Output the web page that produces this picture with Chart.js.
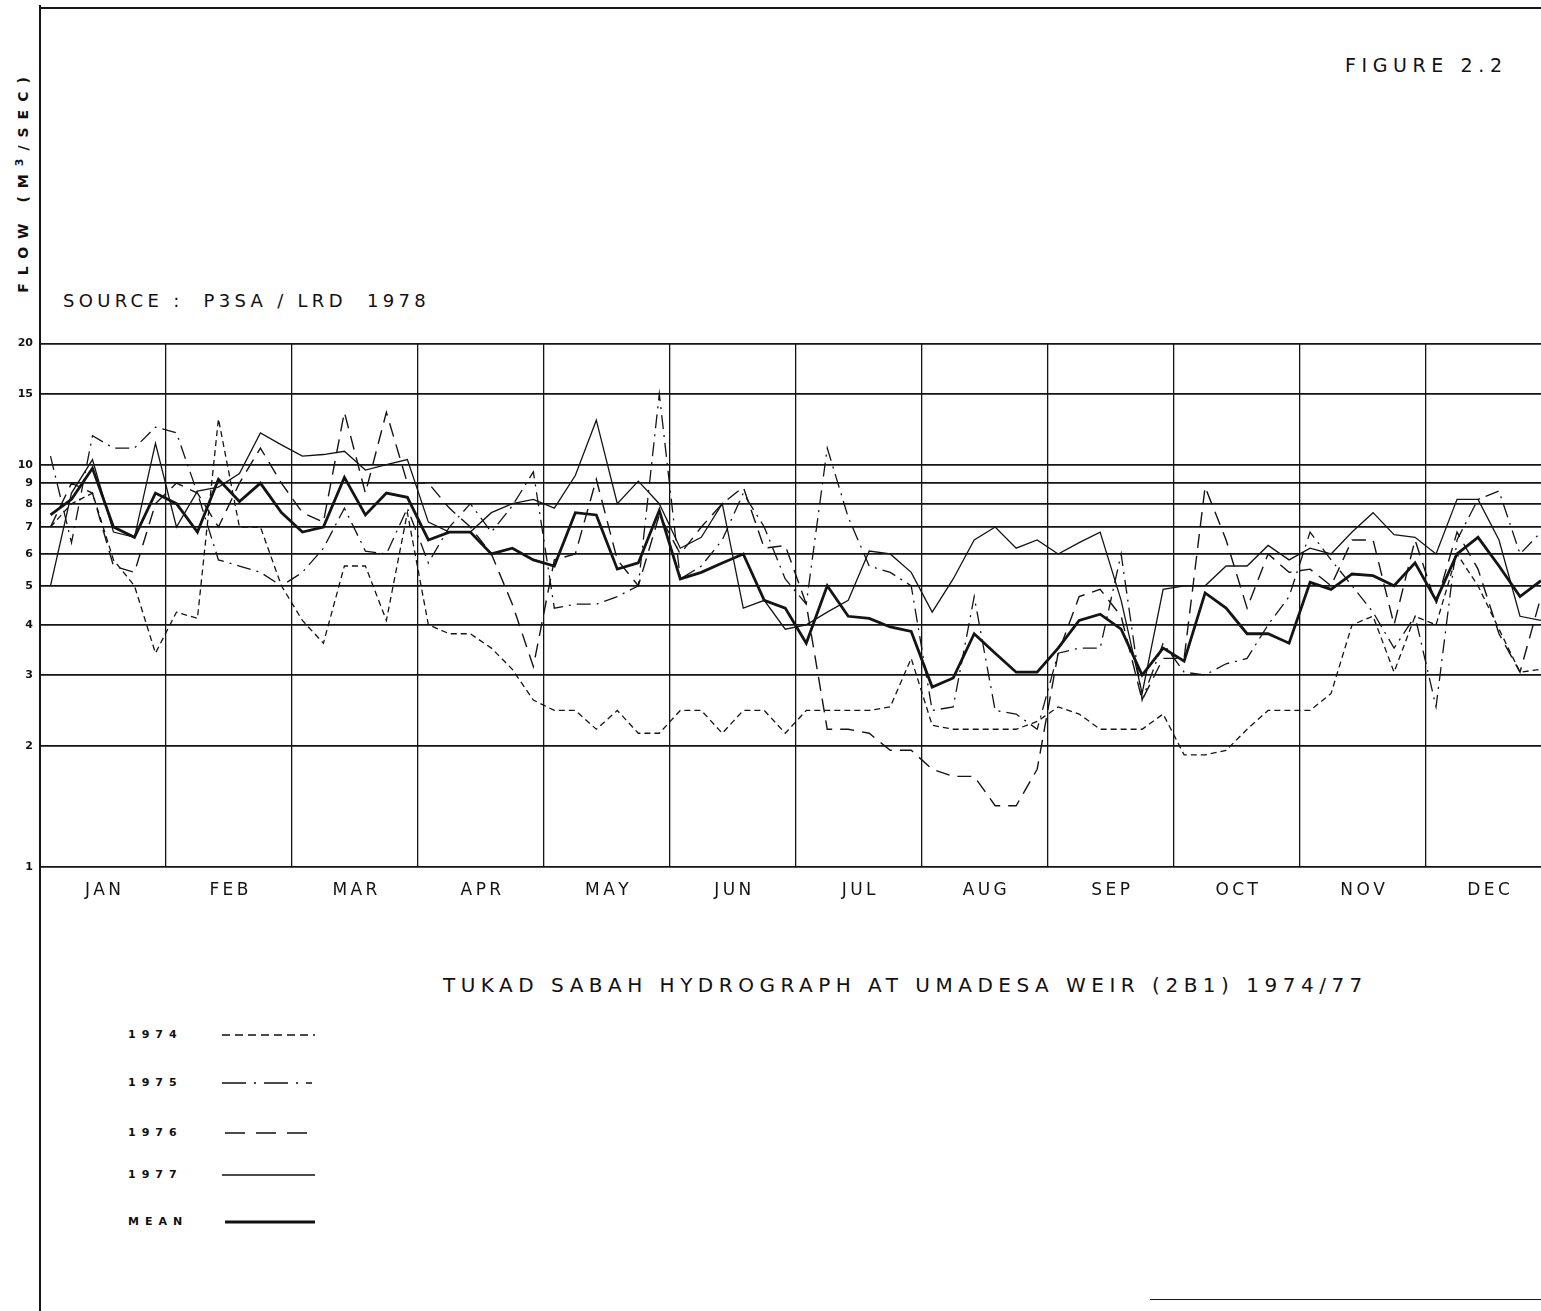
<!DOCTYPE html>
<html>
<head>
<meta charset="utf-8">
<script src="https://cdn.jsdelivr.net/npm/chart.js@4.4.1/dist/chart.umd.min.js"></script>
<style>
  html, body { margin: 0; padding: 0; background: #fff; }
  body { width: 1541px; height: 1311px; position: relative; overflow: hidden; font-family: "DejaVu Sans", "Liberation Sans", sans-serif; color: #111; }
  .rule { position: absolute; background: #161616; }
  .txt { position: absolute; white-space: nowrap; }
  #wrap { position: absolute; left: 0; top: 330px; width: 1541px; height: 580px; }
  .leg { position: absolute; left: 128px; font-size: 11px; font-weight: bold; letter-spacing: 6px; }
  .legline { position: absolute; }
</style>
</head>
<body>
<!-- sheet frame -->
<div class="rule" style="left:39px; top:5px; width:2px; height:1306px;"></div>
<div class="rule" style="left:40px; top:7px; width:1501px; height:2px;"></div>
<div class="rule" style="left:1150px; top:1299px; width:391px; height:1px;"></div>

<div class="txt" style="left:1345px; top:54px; font-size:19px; letter-spacing:5.6px;">FIGURE 2.2</div>
<div class="txt" style="left:63px; top:290px; font-size:18px; letter-spacing:4.3px;">SOURCE :&nbsp; P3SA / LRD&nbsp; 1978</div>
<div class="txt" style="left:22px; top:181px; font-size:14px; font-weight:bold; letter-spacing:8px; transform: translate(-50%,-50%) rotate(-90deg);">FLOW (M<sup style="font-size:11px;">3</sup>/SEC)</div>
<div class="txt" style="left:443px; top:973px; font-size:20px; letter-spacing:5.5px;">TUKAD SABAH HYDROGRAPH AT UMADESA WEIR (2B1) 1974/77</div>

<div id="wrap"><canvas id="c" width="1541" height="580"></canvas></div>

<div class="leg" style="top:1028px;">1974</div>
<div class="leg" style="top:1076px;">1975</div>
<div class="leg" style="top:1126px;">1976</div>
<div class="leg" style="top:1168px;">1977</div>
<div class="leg" style="top:1215px;">MEAN</div>
<svg class="legline" style="left:0; top:0;" width="400" height="1311">
  <line x1="222" y1="1035" x2="315" y2="1035" stroke="#111" stroke-width="1.4" stroke-dasharray="8 5"/>
  <line x1="222" y1="1083" x2="312" y2="1083" stroke="#111" stroke-width="1.4" stroke-dasharray="24 8 2 8"/>
  <line x1="225" y1="1133" x2="307" y2="1133" stroke="#111" stroke-width="1.6" stroke-dasharray="20 11"/>
  <line x1="222" y1="1175" x2="315" y2="1175" stroke="#111" stroke-width="1.6"/>
  <line x1="225" y1="1222" x2="315" y2="1222" stroke="#111" stroke-width="2.8"/>
</svg>

<script>
// Months of the year and the flow grid (m3/s, log scale)
const months = ['JAN', 'FEB', 'MAR', 'APR', 'MAY', 'JUN', 'JUL', 'AUG', 'SEP', 'OCT', 'NOV', 'DEC'];
const yTicks = [1, 2, 3, 4, 5, 6, 7, 8, 9, 10, 15, 20];

// Five-day (pentad) mean flows, 6 pentads per month
const flow1974 = [
  7.0, 8.0, 8.5, 5.8, 5.0, 3.4,
  4.3, 4.15, 13.0, 7.0, 7.0, 5.0,
  4.1, 3.6, 5.6, 5.6, 4.1, 7.6,
  4.0, 3.8, 3.8, 3.5, 3.1, 2.6,
  2.45, 2.45, 2.2, 2.45, 2.15, 2.15,
  2.45, 2.45, 2.15, 2.45, 2.45, 2.15,
  2.45, 2.45, 2.45, 2.45, 2.5, 3.3,
  2.25, 2.2, 2.2, 2.2, 2.2, 2.3,
  2.5, 2.4, 2.2, 2.2, 2.2, 2.4,
  1.9, 1.9, 1.95, 2.2, 2.45, 2.45,
  2.45, 2.7, 4.0, 4.2, 3.05, 4.2,
  4.0, 6.0, 5.0, 3.9, 3.05, 3.1
];
const flow1975 = [
  10.5, 6.4, 11.8, 11.0, 11.0, 12.4,
  12.0, 8.5, 5.8, 5.6, 5.4, 5.0,
  5.4, 6.2, 7.8, 6.1, 6.0, 7.8,
  5.7, 7.0, 8.0, 6.8, 7.9, 9.6,
  4.4, 4.5, 4.5, 4.7, 5.0, 15.0,
  5.2, 5.6, 6.5, 8.5, 7.0, 5.2,
  4.5, 11.0, 7.4, 5.6, 5.4, 5.0,
  2.45, 2.5, 4.7, 2.45, 2.4, 2.2,
  3.4, 3.5, 3.5, 6.0, 2.6, 3.6,
  3.05, 3.0, 3.2, 3.3, 4.0, 4.7,
  6.8, 5.8, 5.0, 4.3, 3.5, 4.2,
  2.5, 6.5, 8.2, 8.6, 6.0, 6.8
];
const flow1976 = [
  7.0, 9.0, 8.5, 5.6, 5.4, 8.0,
  9.0, 8.5, 7.0, 9.0, 11.0, 9.0,
  7.6, 7.2, 13.5, 8.5, 13.5, 9.0,
  9.0, 7.8, 7.0, 6.0, 4.5, 3.15,
  5.8, 6.0, 9.2, 5.8, 5.0, 7.5,
  6.0, 7.0, 8.0, 8.8, 6.2, 6.3,
  4.5, 2.2, 2.2, 2.15, 1.95, 1.95,
  1.75, 1.68, 1.68, 1.42, 1.42, 1.75,
  3.4, 4.7, 4.9, 4.2, 2.6, 3.3,
  3.3, 8.8, 6.5, 4.4, 6.0, 5.4,
  5.5, 5.0, 6.5, 6.5, 4.0, 6.5,
  4.5, 6.8, 5.5, 3.8, 3.05, 4.7
];
const flow1977 = [
  5.0, 8.5, 10.3, 6.8, 6.6, 11.3,
  7.0, 8.6, 8.8, 9.5, 12.0, 11.2,
  10.5, 10.6, 10.8, 9.7, 10.0, 10.3,
  7.2, 6.8, 6.8, 7.6, 8.0, 8.2,
  7.8, 9.4, 12.9, 8.0, 9.1, 8.0,
  6.2, 6.6, 8.0, 4.4, 4.6, 3.9,
  4.0, 4.3, 4.6, 6.1, 6.0, 5.4,
  4.3, 5.2, 6.5, 7.0, 6.2, 6.5,
  6.0, 6.4, 6.8, 4.6, 2.7, 4.9,
  5.0, 5.0, 5.6, 5.6, 6.3, 5.8,
  6.2, 6.0, 6.8, 7.6, 6.7, 6.6,
  6.0, 8.2, 8.2, 6.5, 4.2, 4.1
];
const flowMean = [
  7.5, 8.2, 9.8, 7.0, 6.6, 8.5,
  8.0, 6.8, 9.2, 8.1, 9.0, 7.6,
  6.8, 7.0, 9.3, 7.5, 8.5, 8.3,
  6.5, 6.8, 6.8, 6.0, 6.2, 5.8,
  5.6, 7.6, 7.5, 5.5, 5.7, 7.7,
  5.2, 5.4, 5.7, 6.0, 4.6, 4.4,
  3.6, 5.0, 4.2, 4.15, 3.95, 3.85,
  2.8, 2.95, 3.8, 3.4, 3.05, 3.05,
  3.5, 4.1, 4.25, 3.9, 3.0, 3.5,
  3.25, 4.8, 4.4, 3.8, 3.8, 3.6,
  5.1, 4.9, 5.35, 5.3, 5.0, 5.7,
  4.6, 6.0, 6.6, 5.6, 4.7, 5.15
];

// each pentad is plotted at its centre (pentad index + 0.5)
const toPoints = vals => vals.map((v, i) => ({ x: i + 0.5, y: v }));
const INK = '#141414';

function series(label, vals, width, dash) {
  return {
    label, data: toPoints(vals),
    borderColor: INK, borderWidth: width, borderDash: dash,
    pointRadius: 0, tension: 0, fill: false
  };
}

// spaced lettering for the month names
const spaced = s => s.split('').join('\u2009');

new Chart(document.getElementById('c'), {
  type: 'line',
  data: {
    datasets: [
      series('1974', flow1974, 1.3, [6, 4]),
      series('1975', flow1975, 1.3, [14, 6, 2, 6]),
      series('1976', flow1976, 1.4, [14, 8]),
      series('1977', flow1977, 1.3, []),
      series('MEAN', flowMean, 2.8, [])
    ]
  },
  options: {
    responsive: false,
    devicePixelRatio: 1,
    animation: false,
    layout: { padding: { top: 12, right: 0, left: 0, bottom: 0 } },
    plugins: { legend: { display: false }, tooltip: { enabled: false } },
    scales: {
      x: {
        type: 'linear', min: 0, max: 71.5,
        afterBuildTicks: s => { s.ticks = []; for (let v = 0; v <= 69; v += 3) s.ticks.push({ value: v }); },
        afterFit: s => { s.height = 43; },
        grid: {
          drawTicks: false,
          color: c => (c.tick && c.tick.value % 6 === 0) ? INK : 'rgba(0,0,0,0)',
          lineWidth: 1.3
        },
        border: { display: false },
        ticks: {
          autoSkip: false, maxRotation: 0, padding: 13, color: INK,
          font: { family: 'DejaVu Sans', size: 17 },
          callback: v => (v % 6 === 3) ? spaced(months[(v - 3) / 6]) : ''
        }
      },
      y: {
        type: 'logarithmic', min: 1, max: 20,
        afterBuildTicks: s => { s.ticks = yTicks.map(v => ({ value: v })); },
        afterFit: s => { s.width = 40; },
        grid: { drawTicks: false, color: INK, lineWidth: 1.8 },
        border: { display: false },
        ticks: {
          padding: 7, color: INK,
          font: { family: 'DejaVu Sans', size: 11, weight: 'bold' },
          callback: v => String(v)
        }
      }
    }
  }
});
</script>
</body>
</html>
